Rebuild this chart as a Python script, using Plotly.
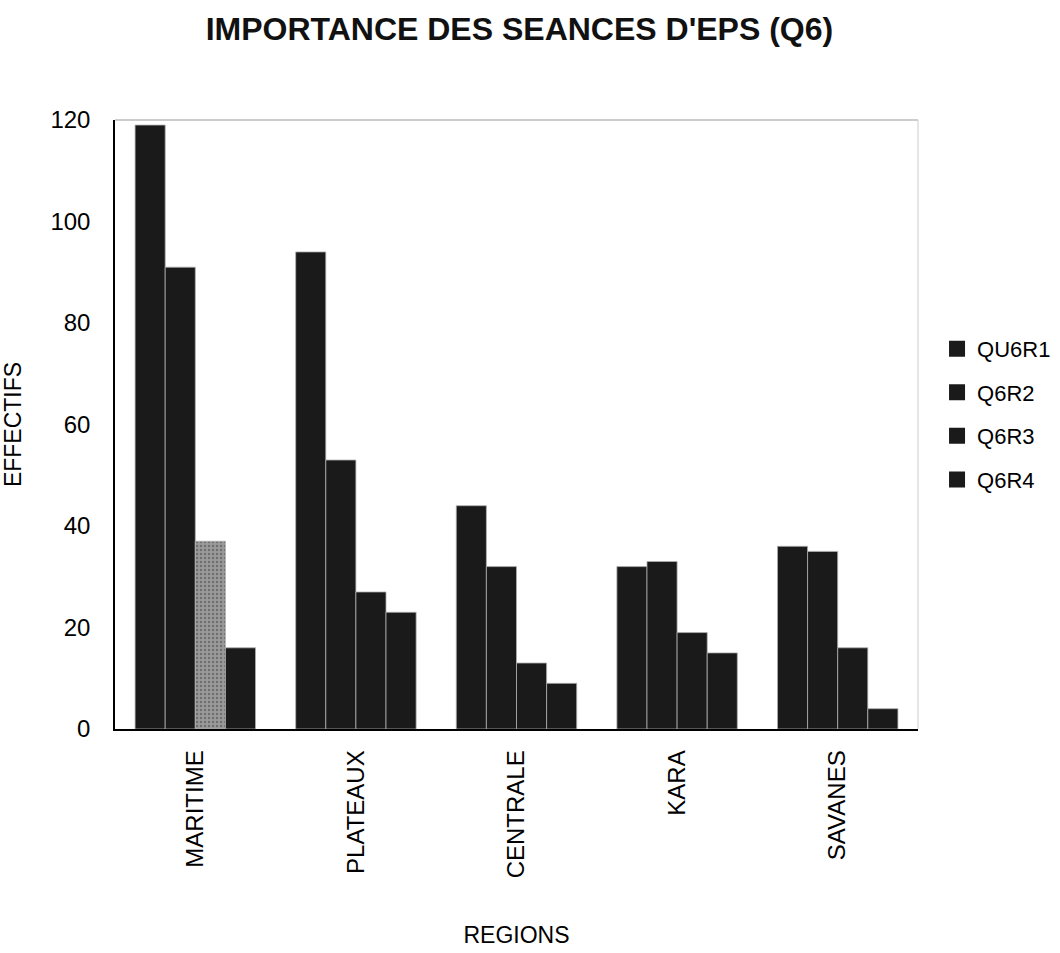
import plotly.graph_objects as go

regions = ["MARITIME", "PLATEAUX", "CENTRALE", "KARA", "SAVANES"]
series_names = ["QU6R1", "Q6R2", "Q6R3", "Q6R4"]
q6r1 = [119, 94, 44, 32, 36]
q6r2 = [91, 53, 32, 33, 35]
q6r3 = [37, 27, 13, 19, 16]
q6r4 = [16, 23, 9, 15, 4]
y_ticks = [0, 20, 40, 60, 80, 100, 120]

FONT = "Liberation Sans, Arial, sans-serif"
DARK = "#1a1a1a"

fig = go.Figure()
all_series = [q6r1, q6r2, q6r3, q6r4]
for name, vals in zip(series_names, all_series):
    marker = dict(color=DARK, line=dict(color="#b0b0b0", width=0.8))
    if name == "Q6R3":
        marker["color"] = ["#9a9a9a"] + [DARK] * (len(vals) - 1)
        marker["pattern"] = dict(shape=["."] + [""] * (len(vals) - 1), fgcolor="#5a5a5a",
                                 size=4, solidity=0.3, fillmode="overlay")
    fig.add_trace(go.Bar(x=regions, y=vals, name=name, marker=marker,
                         showlegend=False, legendgroup=name))

# legend entries with larger square swatches
for name in series_names:
    fig.add_trace(go.Scatter(x=[None], y=[None], mode="markers", name=name,
                             legendgroup=name,
                             marker=dict(symbol="square", size=18, color=DARK)))

fig.update_layout(
    width=1060, height=953,
    margin=dict(l=115, r=142, t=120, b=224),
    paper_bgcolor="white", plot_bgcolor="white",
    barmode="group", bargap=0.25, bargroupgap=0,
    font=dict(family=FONT, size=23, color="black"),
    title=dict(text="<b>IMPORTANCE DES SEANCES D'EPS (Q6)</b>", x=0.49, xanchor="center",
               y=0.97, yanchor="middle", font=dict(family=FONT, size=32, color="#111")),
    legend=dict(xref="container", yref="container", x=0.884, xanchor="left",
                y=0.656, yanchor="top",
                font=dict(family=FONT, size=22), traceorder="grouped",
                tracegroupgap=12, bgcolor="rgba(0,0,0,0)", itemsizing="trace",
                borderwidth=0),
    showlegend=True,
)
fig.update_xaxes(
    tickangle=-90, showline=True, linecolor="black", linewidth=1.5,
    mirror=False, ticks="", tickfont=dict(family=FONT, size=24), automargin=False,
    ticklabelstandoff=10,
    title=dict(text="REGIONS", font=dict(family=FONT, size=23), standoff=50),
)
fig.update_yaxes(
    range=[0, 120], tickvals=y_ticks, showgrid=False, zeroline=False,
    showline=True, linecolor="black", linewidth=1.5, ticks="", automargin=False,
    tickfont=dict(family=FONT, size=24), ticklabelstandoff=18,
    title=dict(text="EFFECTIFS", font=dict(family=FONT, size=23), standoff=22),
)
# light frame on top/right
fig.add_shape(type="line", xref="paper", yref="paper", x0=0, x1=1, y0=1, y1=1,
              line=dict(color="#999999", width=1))
fig.add_shape(type="line", xref="paper", yref="paper", x0=1, x1=1, y0=0, y1=1,
              line=dict(color="#cccccc", width=1))

fig.write_html("out.html")
